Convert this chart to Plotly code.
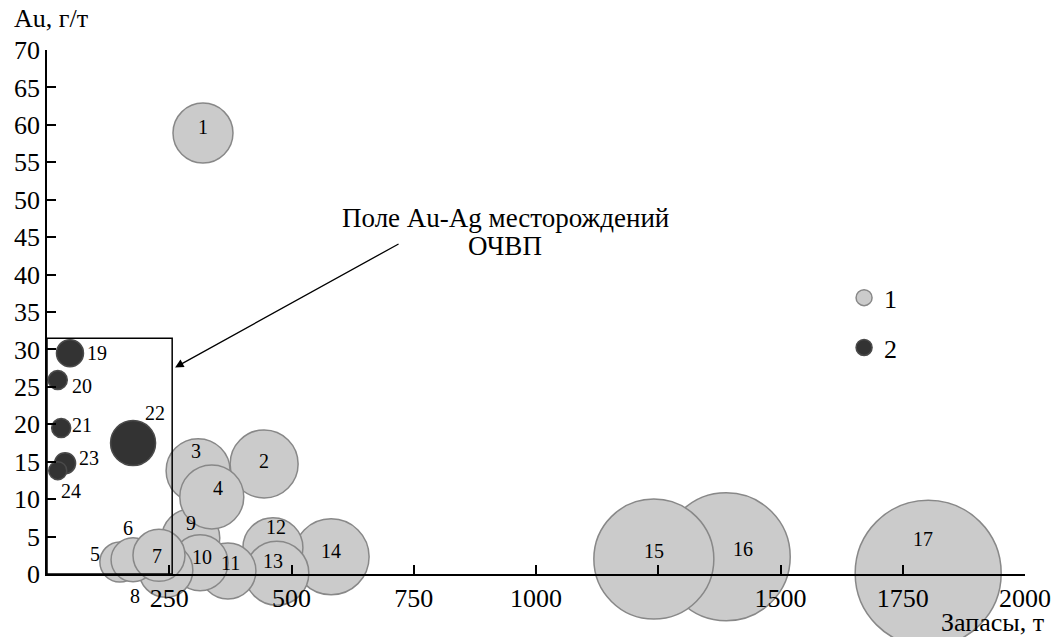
import numpy as np
import plotly.graph_objects as go

# ---- data -------------------------------------------------------------
# group 1: deposits 1..17 (light grey)
g1_labels = ["1", "2", "3", "4", "5", "6", "7", "8", "9", "10", "11", "12", "13", "14", "15", "16", "17"]
g1_reserves = [319, 444, 309, 337, 149, 176, 229, 243, 294, 313, 370, 462, 470, 581, 1241, 1389, 1802]
g1_grade = [58.9, 14.7, 13.8, 10.3, 1.6, 1.9, 2.5, 0.5, 4.8, 1.5, 0.4, 3.5, 0.1, 2.3, 2.0, 2.3, 0.1]
g1_bubble = [60, 68, 64, 64, 40, 44, 52, 54, 58, 56, 56, 60, 64, 76, 120, 128, 146]

# group 2: deposits 19..24 (dark)
g2_labels = ["19", "20", "21", "22", "23", "24"]
g2_reserves = [47, 22, 29, 176, 37, 22]
g2_grade = [29.5, 25.9, 19.5, 17.5, 14.8, 13.8]
g2_bubble = [27, 19, 19, 45, 21, 18]

x_tick_vals = [250, 500, 750, 1000, 1250, 1500, 1750, 2000]
x_tick_text = ["250", "500", "750", "1000", "", "1500", "1750", "2000"]
y_tick_vals = list(range(0, 75, 5))

field_box_x = [0, 256]
field_box_y = [0, 31.5]

# ---- styling ------------------------------------------------------------
FONT = "Liberation Serif"
# label offsets (px) relative to bubble centres
g1_label_shift = [(0, 6), (0, 3), (-2, 20), (6, 9), (-25, 8), (-5, 32), (-2, -1), (-31, -26),
                  (0, 15), (2, 6), (3, 8), (3, 21), (-4, 12), (0, 6), (0, 8), (17, 8), (-5, 34)]
g2_label_shift = [(27, 0), (24, -6), (21, 3), (22, 30), (24, 5), (13, -20)]
# drawing order (back -> front) for overlapping light bubbles
g1_order = ["14", "12", "13", "11", "9", "10", "8", "5", "6", "7", "2", "3", "4", "1", "16", "15", "17"]

idx = [g1_labels.index(k) for k in g1_order]

fig = go.Figure()
fig.add_trace(go.Scatter(
    x=[g1_reserves[i] for i in idx], y=[g1_grade[i] for i in idx],
    mode="markers", name="1", legendgroup="1",
    marker=dict(size=[g1_bubble[i] for i in idx], sizemode="diameter",
                color="#cbcbcb", line=dict(color="#888888", width=1.5), opacity=1),
    cliponaxis=False, hoverinfo="skip",
))
fig.add_trace(go.Scatter(
    x=g2_reserves, y=g2_grade,
    mode="markers", name="2", legendgroup="2",
    marker=dict(size=g2_bubble, sizemode="diameter",
                color="#333333", line=dict(color="#4a4a4a", width=1.5), opacity=1),
    cliponaxis=False, hoverinfo="skip",
))

annotations = []
for lab, xv, yv, (dx, dy) in zip(g1_labels, g1_reserves, g1_grade, g1_label_shift):
    annotations.append(dict(x=xv, y=yv, text=lab, showarrow=False, xshift=dx, yshift=dy,
                            font=dict(family=FONT, size=20, color="black")))
for lab, xv, yv, (dx, dy) in zip(g2_labels, g2_reserves, g2_grade, g2_label_shift):
    annotations.append(dict(x=xv, y=yv, text=lab, showarrow=False, xshift=dx, yshift=dy,
                            font=dict(family=FONT, size=20, color="black")))

# field caption + arrow
annotations.append(dict(x=937, y=47.5, text="Поле Au-Ag месторождений", showarrow=False,
                        font=dict(family=FONT, size=27, color="black")))
annotations.append(dict(x=937, y=43.8, text="ОЧВП", showarrow=False,
                        font=dict(family=FONT, size=27, color="black")))
annotations.append(dict(x=262, y=27.6, ax=722, ay=44.2, axref="x", ayref="y",
                        text="", showarrow=True, arrowhead=2, arrowsize=1.3,
                        arrowwidth=1.3, arrowcolor="black"))
# axis titles
annotations.append(dict(x=-0.0358, y=1.061, xref="paper", yref="paper", xanchor="left",
                        yanchor="middle", text="Au, г/т", showarrow=False,
                        font=dict(family=FONT, size=26, color="black")))
annotations.append(dict(x=1.0215, y=-0.0935, xref="paper", yref="paper", xanchor="right",
                        yanchor="middle", text="Запасы, т", showarrow=False,
                        font=dict(family=FONT, size=26, color="black")))

fig.update_layout(
    width=1051, height=637,
    margin=dict(l=47, r=26, t=50, b=63),
    paper_bgcolor="white", plot_bgcolor="white",
    font=dict(family=FONT, size=26, color="black"),
    showlegend=True,
    legend=dict(x=0.815, y=0.572, xanchor="left", yanchor="top",
                bgcolor="rgba(0,0,0,0)", itemsizing="trace",
                traceorder="grouped", tracegroupgap=13,
                font=dict(family=FONT, size=26, color="black")),
    annotations=annotations,
    shapes=[dict(type="rect", x0=field_box_x[0], x1=field_box_x[1],
                 y0=field_box_y[0], y1=field_box_y[1],
                 line=dict(color="black", width=1.5), layer="above")],
)
fig.update_xaxes(range=[0, 2000], showgrid=False, zeroline=False, showline=True,
                 linecolor="black", linewidth=1.5, ticks="inside", ticklen=9,
                 tickwidth=1.5, tickcolor="black", tickvals=x_tick_vals,
                 ticktext=x_tick_text, tickfont=dict(family=FONT, size=26),
                 automargin=False)
fig.update_yaxes(range=[0, 70], showgrid=False, zeroline=False, showline=True,
                 linecolor="black", linewidth=1.5, ticks="inside", ticklen=9,
                 tickwidth=1.5, tickcolor="black", tickvals=y_tick_vals,
                 tickfont=dict(family=FONT, size=26), automargin=False)

fig.write_html("out.html",
               config={"displayModeBar": False},
               post_script="document.body.style.margin='0';document.body.style.overflow='hidden';")
